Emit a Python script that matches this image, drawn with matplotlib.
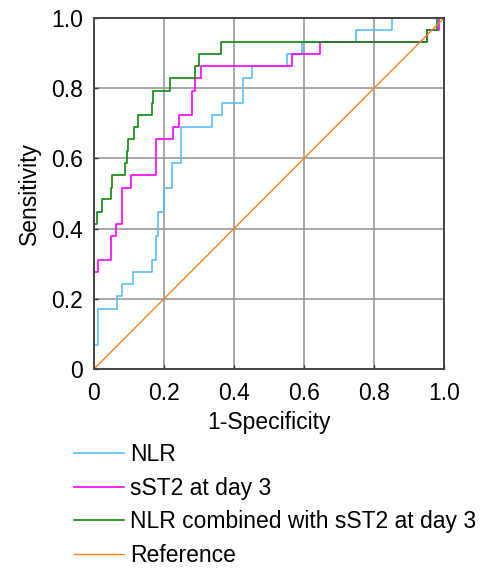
import matplotlib
matplotlib.use("Agg")
import matplotlib.pyplot as plt

plt.rcParams["font.family"] = ["Liberation Sans", "DejaVu Sans"]

# ROC steps: x where the curve rises, and sensitivity reached after the rise
nlr_fpr = [0, 0.012, 0.067, 0.081, 0.112, 0.165, 0.177, 0.182, 0.200, 0.222,
           0.248, 0.336, 0.367, 0.425, 0.452, 0.551, 0.593, 0.749, 0.851]
nlr_tpr = [0.069, 0.172, 0.207, 0.241, 0.276, 0.310, 0.379, 0.448, 0.517, 0.586,
           0.690, 0.724, 0.759, 0.828, 0.862, 0.897, 0.931, 0.966, 1.0]

sst2_fpr = [0, 0.012, 0.049, 0.063, 0.081, 0.106, 0.177, 0.225, 0.244, 0.279,
            0.289, 0.306, 0.567, 0.646, 0.951, 0.985]
sst2_tpr = [0.276, 0.310, 0.379, 0.414, 0.517, 0.552, 0.655, 0.690, 0.724, 0.793,
            0.828, 0.862, 0.897, 0.931, 0.966, 1.0]

comb_fpr = [0, 0.008, 0.022, 0.048, 0.052, 0.089, 0.093, 0.096, 0.115, 0.125,
            0.165, 0.168, 0.217, 0.289, 0.301, 0.363, 0.951, 0.979]
comb_tpr = [0.414, 0.448, 0.483, 0.517, 0.552, 0.586, 0.621, 0.655, 0.690, 0.724,
            0.759, 0.793, 0.828, 0.862, 0.897, 0.931, 0.966, 1.0]

ref_x = [0, 1]
ref_y = [0, 1]

ticks = [0, 0.2, 0.4, 0.6, 0.8, 1.0]
tick_labels = ["0", "0.2", "0.4", "0.6", "0.8", "1.0"]


def staircase(fpr, tpr):
    xs, ys = [0.0], [0.0]
    for f, t in zip(fpr, tpr):
        xs += [f, f]
        ys += [ys[-1], t]
    xs.append(1.0)
    ys.append(ys[-1])
    return xs, ys


fs = 16.5
fig = plt.figure(figsize=(4.81, 5.68), dpi=100)
ax = fig.add_axes([94 / 481, 1 - 369 / 568, 350 / 481, 351 / 568])

lw = 1.2
x, y = staircase(nlr_fpr, nlr_tpr)
ax.plot(x, y, color="#5bbef5", lw=lw, label="NLR")
x, y = staircase(sst2_fpr, sst2_tpr)
ax.plot(x, y, color="#ff00ff", lw=lw, label="sST2 at day 3")
x, y = staircase(comb_fpr, comb_tpr)
ax.plot(x, y, color="#0a8a0a", lw=lw, label="NLR combined with sST2 at day 3")
ax.plot(ref_x, ref_y, color="#f5821f", lw=1.0, label="Reference")

ax.set_xlim(0, 1)
ax.set_ylim(0, 1)
ax.set_xticks(ticks)
ax.set_xticklabels(tick_labels)
ax.set_yticks(ticks)
ax.set_yticklabels(tick_labels)
ax.tick_params(direction="in", length=3, width=1, labelsize=fs, colors="#333333",
               labelcolor="black")
ax.tick_params(axis="x", pad=9)
ax.tick_params(axis="y", pad=8)
ax.grid(True, color="#999999", lw=1.2)
ax.set_axisbelow(True)
for s in ax.spines.values():
    s.set_color("#444444")
    s.set_linewidth(1.4)

ax.set_xlabel("1-Specificity", fontsize=fs, labelpad=5)
ax.set_ylabel("Sensitivity", fontsize=fs, labelpad=7)

fig.legend(loc="upper left", bbox_to_anchor=(74 / 481, 1 - 443 / 568), frameon=False,
           fontsize=fs, handlelength=2.2, handletextpad=0.25, labelspacing=0.46,
           borderaxespad=0, borderpad=0)

fig.savefig("out.png", dpi=100)
